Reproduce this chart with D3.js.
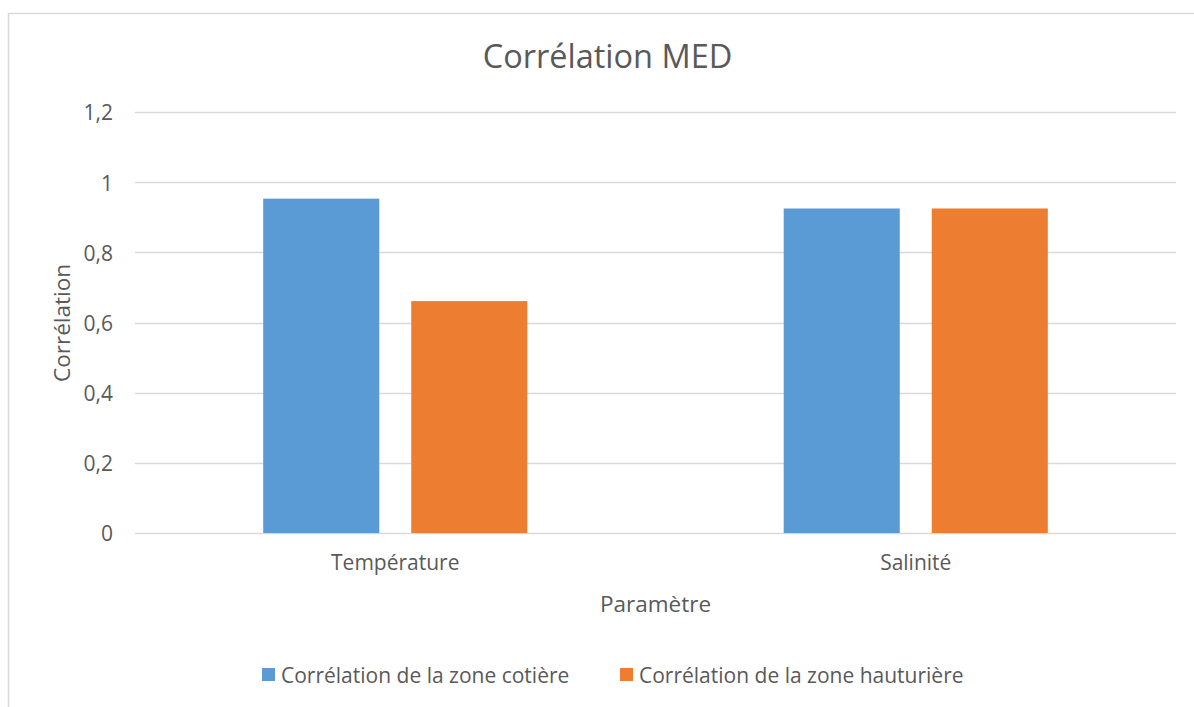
<!DOCTYPE html>
<html>
<head>
<meta charset="utf-8">
<script src="https://cdn.jsdelivr.net/npm/d3@7"></script>
<style>
  body { margin: 0; background: #fff; }
  svg { display: block; font-family: "Open Sans", Lato, sans-serif; }
  text { fill: #595959; }
</style>
</head>
<body>
<div id="chart"></div>
<script>
// data
const categories = ["Température", "Salinité"];
const seriesNames = ["Corrélation de la zone cotière", "Corrélation de la zone hauturière"];
const coastValues = [0.953, 0.925];
const offshoreValues = [0.661, 0.925];
const yTicks = [0, 0.2, 0.4, 0.6, 0.8, 1, 1.2];
const colors = ["#5B9BD5", "#ED7D31"];

const W = 1194, H = 707;
const m = { t: 112, r: 18, b: 174, l: 135 };
const iw = W - m.l - m.r, ih = H - m.t - m.b;

const svg = d3.select("#chart").append("svg")
  .attr("width", W).attr("height", H);

// outer chart border (cut off at right and bottom)
svg.append("rect")
  .attr("x", 8.5).attr("y", 13.5)
  .attr("width", 1300).attr("height", 900)
  .attr("fill", "none").attr("stroke", "#D9D9D9").attr("stroke-width", 1.5);

const g = svg.append("g").attr("transform", `translate(${m.l},${m.t})`);

const y = d3.scaleLinear().domain([0, 1.2]).range([ih, 0]);
const x0 = d3.scaleBand().domain(categories).range([0, iw]).padding(0);
const x1 = d3.scaleBand().domain(seriesNames).range([0, x0.bandwidth()])
  .paddingInner(0.216).paddingOuter(0.866);

// gridlines
g.append("g")
  .selectAll("line")
  .data(yTicks)
  .join("line")
  .attr("x1", 0).attr("x2", iw)
  .attr("y1", d => Math.round(y(d)) + 0.5).attr("y2", d => Math.round(y(d)) + 0.5)
  .attr("stroke", "#D9D9D9").attr("stroke-width", 1.3);

// y tick labels
const fmt = d => d3.format("~g")(d).replace(".", ",");
g.append("g")
  .selectAll("text")
  .data(yTicks)
  .join("text")
  .attr("x", -22).attr("y", d => y(d))
  .attr("dy", "0.4em")
  .attr("text-anchor", "end")
  .style("font-size", "21px")
  .text(fmt);

// bars
const rows = categories.map((c, i) => ({ cat: c, vals: [coastValues[i], offshoreValues[i]] }));
g.append("g")
  .selectAll("g")
  .data(rows)
  .join("g")
  .attr("transform", d => `translate(${x0(d.cat)},0)`)
  .selectAll("rect")
  .data(d => d.vals.map((v, j) => ({ s: seriesNames[j], v, j })))
  .join("rect")
  .attr("x", d => x1(d.s))
  .attr("width", x1.bandwidth())
  .attr("y", d => y(d.v))
  .attr("height", d => ih - y(d.v))
  .attr("fill", d => colors[d.j]);

// category labels
g.append("g")
  .selectAll("text")
  .data(categories)
  .join("text")
  .attr("x", d => x0(d) + x0.bandwidth() / 2)
  .attr("y", ih + 37)
  .attr("text-anchor", "middle")
  .style("font-size", "21px")
  .text(d => d);

// title
svg.append("text")
  .attr("x", 607.5).attr("y", 68)
  .attr("text-anchor", "middle")
  .style("font-size", "32.5px")
  .text("Corrélation MED");

// axis titles
svg.append("text")
  .attr("x", m.l + iw / 2).attr("y", 611.5)
  .attr("text-anchor", "middle")
  .style("font-size", "22.5px")
  .text("Paramètre");

svg.append("text")
  .attr("transform", `translate(69.5, 323) rotate(-90)`)
  .attr("text-anchor", "middle")
  .style("font-size", "22.5px")
  .text("Corrélation");

// legend
const legendX = [262, 620];
const lg = svg.append("g")
  .selectAll("g")
  .data(seriesNames)
  .join("g")
  .attr("transform", (d, i) => `translate(${legendX[i]},668)`);
lg.append("rect")
  .attr("width", 13).attr("height", 13)
  .attr("fill", (d, i) => colors[i]);
lg.append("text")
  .attr("x", 19).attr("y", 14.5)
  .style("font-size", "21px")
  .text(d => d);
</script>
</body>
</html>
